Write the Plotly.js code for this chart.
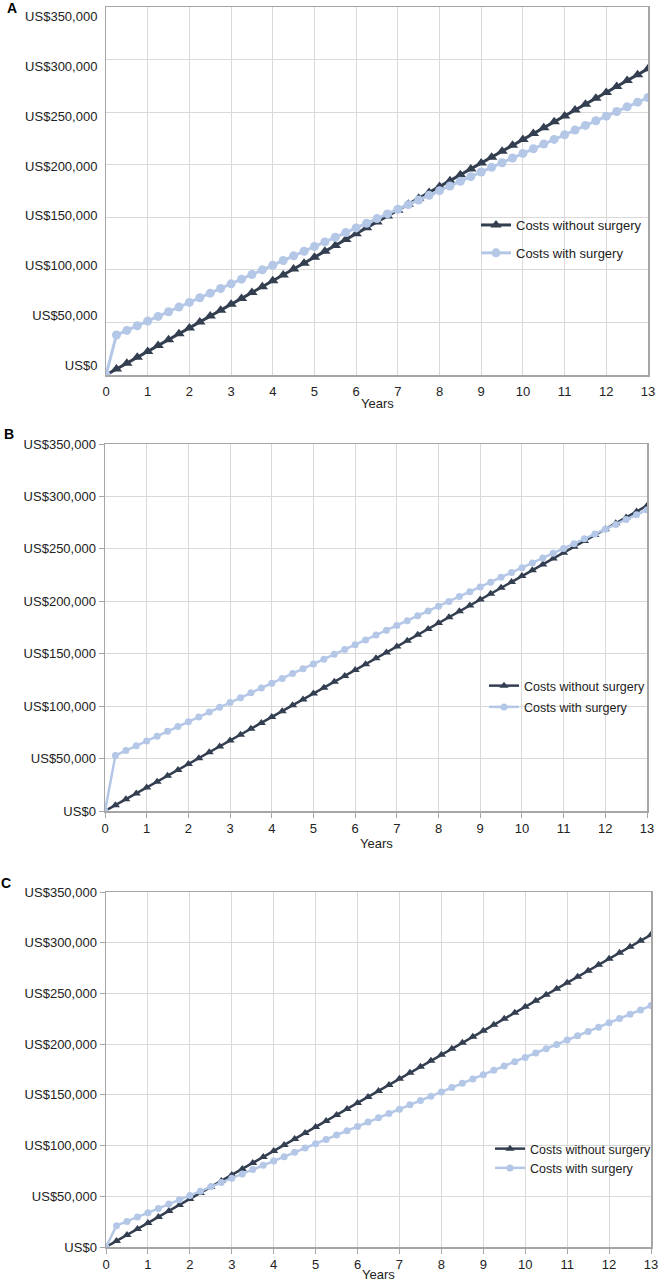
<!DOCTYPE html>
<html>
<head>
<meta charset="utf-8">
<script src="https://cdn.plot.ly/plotly-3.0.1.min.js"></script>
<style>
html,body{margin:0;padding:0;background:#fff;}
#chart{width:659px;height:1283px;}
</style>
</head>
<body>
<div id="chart"></div>
<script>
// Years (quarterly steps)
const years = [0,0.25,0.5,0.75,1,1.25,1.5,1.75,2,2.25,2.5,2.75,3,3.25,3.5,3.75,4,4.25,4.5,4.75,5,5.25,5.5,5.75,6,6.25,6.5,6.75,7,7.25,7.5,7.75,8,8.25,8.5,8.75,9,9.25,9.5,9.75,10,10.25,10.5,10.75,11,11.25,11.5,11.75,12,12.25,12.5,12.75,13];

// Panel A
const aWithout = [0,5600,11200,16800,22400,28000,33600,39200,44800,50400,56000,61600,67200,72800,78400,84000,89600,95200,100800,106400,112000,117600,123200,128800,134400,140000,145600,151200,156800,162400,168000,173600,179200,184800,190400,196000,201600,207200,212800,218400,224000,229600,235200,240800,246400,252000,257600,263200,268800,274400,280000,285600,291200];
const aWith = [0,38000,42430,46860,51290,55720,60150,64580,69010,73440,77870,82300,86730,91160,95590,100020,104450,108880,113310,117740,122170,126600,131030,135460,139890,144320,148750,153180,157610,162040,166470,170900,175330,179760,184190,188620,193050,197480,201910,206340,210770,215200,219630,224060,228490,232920,237350,241780,246210,250640,255070,259500,263930];

// Panel B
const bWithout = [0,5600,11200,16800,22400,28000,33600,39200,44800,50400,56000,61600,67200,72800,78400,84000,89600,95200,100800,106400,112000,117600,123200,128800,134400,140000,145600,151200,156800,162400,168000,173600,179200,184800,190400,196000,201600,207200,212800,218400,224000,229600,235200,240800,246400,252000,257600,263200,268800,274400,280000,285600,291200];
const bWith = [0,53000,57590,62180,66770,71360,75950,80540,85130,89720,94310,98900,103490,108080,112670,117260,121850,126440,131030,135620,140210,144800,149390,153980,158570,163160,167750,172340,176930,181520,186110,190700,195290,199880,204470,209060,213650,218240,222830,227420,232010,236600,241190,245780,250370,254960,259550,264140,268730,273320,277910,282500,287090];

// Panel C
const cWithout = [0,5920,11840,17760,23680,29600,35520,41440,47360,53280,59200,65120,71040,76960,82880,88800,94720,100640,106560,112480,118400,124320,130240,136160,142080,148000,153920,159840,165760,171680,177600,183520,189440,195360,201280,207200,213120,219040,224960,230880,236800,242720,248640,254560,260480,266400,272320,278240,284160,290080,296000,301920,307840];
const cWith = [0,21000,25255,29510,33765,38020,42275,46530,50785,55040,59295,63550,67805,72060,76315,80570,84825,89080,93335,97590,101845,106100,110355,114610,118865,123120,127375,131630,135885,140140,144395,148650,152905,157160,161415,165670,169925,174180,178435,182690,186945,191200,195455,199710,203965,208220,212475,216730,220985,225240,229495,233750,238005];

const xTicks = [0,1,2,3,4,5,6,7,8,9,10,11,12,13];
const yTicks = [0,50000,100000,150000,200000,250000,300000,350000];
const yTickLabels = ['US$0','US$50,000','US$100,000','US$150,000','US$200,000','US$250,000','US$300,000','US$350,000'];
const seriesNames = ['Costs without surgery','Costs with surgery'];
const panelLetters = ['A','B','C'];

const W = 659, H = 1283;
const DARK = '#333f50', LIGHT = '#b4c7e7';
const FONT = 'Liberation Sans, Arial, sans-serif';

const panels = [
  {without:aWithout, withS:aWith, x0:106, x1:648, y0:7, y1:375, lw:3, ms:9, ticks:false,
   labels:{y0:16.7, y1:365}, leg:{x:476, y:210, gap:8, fs:13}, years:404, letter:{x:12, y:8}},
  {without:bWithout, withS:bWith, x0:105, x1:647, y0:444, y1:811, lw:2.5, ms:7, ticks:true,
   labels:null, leg:{x:484, y:671, gap:2, fs:12.5}, years:843, letter:{x:9, y:434}},
  {without:cWithout, withS:cWith, x0:106, x1:651, y0:892, y1:1247, lw:2.5, ms:7, ticks:true,
   labels:null, leg:{x:490, y:1134, gap:0, fs:12.5}, years:1274, letter:{x:6, y:883}}
];

const data = [];
const layout = {
  width: W, height: H,
  margin: {l:0, r:0, t:0, b:0},
  paper_bgcolor: '#fff', plot_bgcolor: 'rgba(0,0,0,0)',
  font: {family: FONT, size: 13, color: '#222'},
  annotations: [],
  showlegend: true
};

panels.forEach((p, i) => {
  const n = i === 0 ? '' : String(i + 1);
  const legName = 'legend' + n;
  data.push({
    x: years, y: p.without, name: seriesNames[0], type: 'scatter', mode: 'lines+markers',
    xaxis: 'x' + n, yaxis: 'y' + n, legend: legName, legendgroup: 'g1' + i,
    line: {color: DARK, width: p.lw},
    marker: {symbol: 'triangle-up', size: p.ms + 1, color: DARK}
  });
  data.push({
    x: years, y: p.withS, name: seriesNames[1], type: 'scatter', mode: 'lines+markers',
    xaxis: 'x' + n, yaxis: 'y' + n, legend: legName, legendgroup: 'g2' + i,
    line: {color: LIGHT, width: p.lw},
    marker: {symbol: 'circle', size: p.ms, color: LIGHT}
  });
  layout['xaxis' + n] = {
    domain: [p.x0 / W, p.x1 / W], anchor: 'y' + n,
    range: [0, 13], tickvals: xTicks, ticktext: xTicks.map(String),
    showgrid: true, gridcolor: '#d9d9d9', gridwidth: 1,
    showline: true, linecolor: '#a6a6a6', linewidth: 1.5, mirror: true,
    ticks: 'outside', ticklen: p.ticks ? 5 : 4, tickcolor: p.ticks ? '#a6a6a6' : 'rgba(0,0,0,0)',
    ticklabeloverflow: 'allow',
    zeroline: false, tickfont: {family: FONT, size: 13, color: '#222'}, fixedrange: true
  };
  layout['yaxis' + n] = {
    domain: [1 - p.y1 / H, 1 - p.y0 / H], anchor: 'x' + n,
    range: [0, 350000], tickvals: yTicks, ticktext: yTickLabels,
    showticklabels: !p.labels,
    showgrid: true, gridcolor: '#d9d9d9', gridwidth: 1,
    showline: true, linecolor: '#a6a6a6', linewidth: 1.5, mirror: true,
    ticks: 'outside', ticklen: 5, tickcolor: p.ticks ? '#a6a6a6' : 'rgba(0,0,0,0)',
    ticklabeloverflow: 'allow',
    zeroline: false, tickfont: {family: FONT, size: 13, color: '#222'}, fixedrange: true
  };
  if (p.labels) {
    // separate label-only axis (labels in the original are spaced slightly tighter than the grid)
    const m = String(4 + i);
    data.push({x: [null], y: [null], xaxis: 'x' + m, yaxis: 'y' + m, type: 'scatter',
               mode: 'markers', showlegend: false, hoverinfo: 'skip'});
    layout['xaxis' + m] = {domain: [p.x0 / W, p.x1 / W], anchor: 'y' + m, range: [0, 13],
                           visible: false, fixedrange: true};
    layout['yaxis' + m] = {
      domain: [1 - p.labels.y1 / H, 1 - p.labels.y0 / H], anchor: 'x' + m,
      range: [0, 350000], tickvals: yTicks, ticktext: yTickLabels,
      showgrid: false, showline: false, zeroline: false,
      ticks: 'outside', ticklen: 5, tickcolor: 'rgba(0,0,0,0)',
      ticklabeloverflow: 'allow',
      tickfont: {family: FONT, size: 13, color: '#222'}, fixedrange: true
    };
  }
  layout[legName] = {
    x: p.leg.x / W, y: 1 - p.leg.y / H, xanchor: 'left', yanchor: 'top',
    bgcolor: 'rgba(0,0,0,0)', borderwidth: 0,
    traceorder: 'grouped', tracegroupgap: p.leg.gap,
    font: {family: FONT, size: p.leg.fs, color: '#222'}
  };
  layout.annotations.push({
    text: 'Years', xref: 'paper', yref: 'paper',
    x: (p.x0 + p.x1) / 2 / W, y: 1 - p.years / H, xanchor: 'center', yanchor: 'middle',
    showarrow: false, font: {family: FONT, size: 13, color: '#222'}
  });
  layout.annotations.push({
    text: '<b>' + panelLetters[i] + '</b>', xref: 'paper', yref: 'paper',
    x: p.letter.x / W, y: 1 - p.letter.y / H, xanchor: 'center', yanchor: 'middle',
    showarrow: false, font: {family: FONT, size: 14, color: '#000'}
  });
});

Plotly.newPlot('chart', data, layout, {staticPlot: true});
</script>
</body>
</html>
